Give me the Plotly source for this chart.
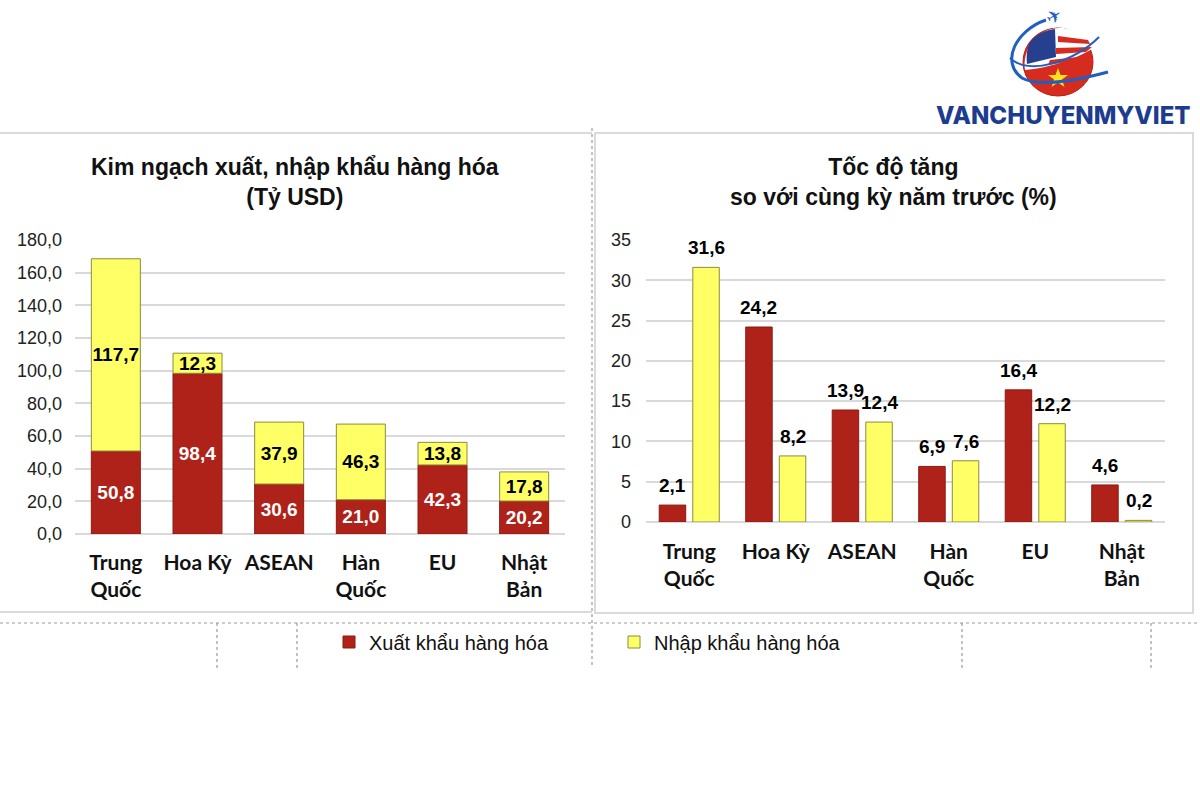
import plotly.graph_objects as go

# ---------------- data ----------------
categories = ["Trung Quốc", "Hoa Kỳ", "ASEAN", "Hàn Quốc", "EU", "Nhật Bản"]
tick_labels = ["Trung<br>Quốc", "Hoa Kỳ", "ASEAN", "Hàn<br>Quốc", "EU", "Nhật<br>Bản"]
export_value = [50.8, 98.4, 30.6, 21.0, 42.3, 20.2]      # Tỷ USD
import_value = [117.7, 12.3, 37.9, 46.3, 13.8, 17.8]     # Tỷ USD
export_growth = [2.1, 24.2, 13.9, 6.9, 16.4, 4.6]        # %
import_growth = [31.6, 8.2, 12.4, 7.6, 12.2, 0.2]        # %
left_yticks = [0, 20, 40, 60, 80, 100, 120, 140, 160, 180]
right_yticks = [0, 5, 10, 15, 20, 25, 30, 35]

series_names = ["Xuất khẩu hàng hóa", "Nhập khẩu hàng hóa"]
title_left = "Kim ngạch xuất, nhập khẩu hàng hóa<br>(Tỷ USD)"
title_right = "Tốc độ tăng<br>so với cùng kỳ năm trước (%)"

RED = "#AE2219"
YELLOW = "#FFFF66"
RED_LINE = "#8E1A12"
YEL_LINE = "#8C8C3C"
GRID = "#D9D9D9"
ARIAL = "Liberation Sans, Arial, sans-serif"
CAT_FONT = "Lato, Calibri, sans-serif"

# grouped bar geometry (category units)
BAR_W = 0.306
RED_OFF = -0.347
YEL_OFF = 0.041


def fmt(v):
    return f"{v:.1f}".replace(".", ",")


fig = go.Figure()

# ---------------- left: stacked bars ----------------
fig.add_trace(go.Bar(
    x=categories, y=export_value, name=series_names[0],
    marker=dict(color=RED, line=dict(color=RED_LINE, width=1)),
    width=0.6, offset=-0.3,
    text=[fmt(v) for v in export_value], textposition="inside",
    insidetextanchor="middle", textangle=0, constraintext="none",
    textfont=dict(family=ARIAL, size=19, color="white", weight="bold"),
    cliponaxis=False, xaxis="x", yaxis="y", legendrank=1,
))
fig.add_trace(go.Bar(
    x=categories, y=import_value, base=export_value, name=series_names[1],
    marker=dict(color=YELLOW, line=dict(color=YEL_LINE, width=1)),
    width=0.6, offset=-0.3,
    text=[fmt(v) for v in import_value], textposition="inside",
    insidetextanchor="middle", textangle=0, constraintext="none",
    textfont=dict(family=ARIAL, size=19, color="black", weight="bold"),
    cliponaxis=False, xaxis="x", yaxis="y", legendrank=2,
))

# ---------------- right: grouped bars ----------------
fig.add_trace(go.Bar(
    x=categories, y=export_growth, name=series_names[0], showlegend=False,
    marker=dict(color=RED, line=dict(color=RED_LINE, width=1)),
    width=BAR_W, offset=RED_OFF, cliponaxis=False, xaxis="x2", yaxis="y2",
))
fig.add_trace(go.Bar(
    x=categories, y=import_growth, name=series_names[1], showlegend=False,
    marker=dict(color=YELLOW, line=dict(color=YEL_LINE, width=1)),
    width=BAR_W, offset=YEL_OFF, cliponaxis=False, xaxis="x2", yaxis="y2",
))

W, H = 1200, 800


def PX(x):
    return x / W


def PY(y):
    return 1 - y / H


def cat_axis(standoff):
    return dict(
        type="category", categoryorder="array", categoryarray=categories,
        tickvals=categories, ticktext=tick_labels,
        showgrid=False, zeroline=False, showline=False, ticks="",
        tickfont=dict(family=CAT_FONT, size=21, color="#111111", weight="bold"),
        ticklabelstandoff=standoff, fixedrange=True, automargin=False,
    )


layout_shapes = []


def pline(x0, y0, x1, y1, color, width, dash="solid"):
    layout_shapes.append(dict(type="line", xref="x3", yref="y3", x0=x0, y0=y0, x1=x1, y1=y1,
                              line=dict(color=color, width=width, dash=dash), layer="below"))


# panel frames
pline(0, 133, 592, 133, "#DADADA", 2)
pline(0, 612, 592, 612, "#DADADA", 2)
layout_shapes.append(dict(type="rect", xref="x3", yref="y3", x0=595, y0=133, x1=1193, y1=613,
                          line=dict(color="#DADADA", width=2), fillcolor="rgba(0,0,0,0)", layer="below"))
# dashed separators
pline(592, 128, 592, 668, "#9A9A9A", 1.2, "dot")
pline(0, 623, 1200, 623, "#9A9A9A", 1.2, "dot")
for xv in [217, 297, 962, 1151]:
    pline(xv, 623, xv, 668, "#9A9A9A", 1.2, "dot")

# ---- logo (approximation) ----
layout_shapes += [
    dict(type="circle", xref="x3", yref="y3", x0=1023, y0=28, x1=1093, y1=96,
         fillcolor="#D62B1F", line=dict(color="#B81E14", width=1)),
    dict(type="path", xref="x3", yref="y3",
         path="M 1025,70 C 1022,48 1038,29 1058,28 C 1076,27 1089,37 1094,48 C 1074,60 1048,68 1025,70 Z",
         fillcolor="white", line=dict(width=0)),
    dict(type="path", xref="x3", yref="y3",
         path="M 1058,36 L 1088,40 L 1090,44 L 1058,42 Z M 1056,48 L 1092,47 L 1086,52 L 1056,54 Z M 1050,60 L 1078,57 L 1066,62 L 1048,65 Z",
         fillcolor="#D62B1F", line=dict(width=0)),
    dict(type="path", xref="x3", yref="y3",
         path="M 1030,42 C 1036,34 1046,30 1055,29 L 1056,57 L 1027,64 C 1026,56 1027,48 1030,42 Z",
         fillcolor="#26408F", line=dict(width=0)),
    dict(type="path", xref="x3", yref="y3",
         path="M 1058,68 L 1060.5,75 L 1068,75 L 1062,79.5 L 1064.5,87 L 1058,82.5 L 1051.5,87 L 1054,79.5 L 1048,75 L 1055.5,75 Z",
         fillcolor="#FFE21A", line=dict(width=0)),
    dict(type="path", xref="x3", yref="y3",
         path="M 1046,20 C 1016,30 1000,62 1022,78 C 1040,88 1078,80 1108,72",
         line=dict(color="#1F5FC0", width=3)),
    dict(type="path", xref="x3", yref="y3",
         path="M 1010,58 C 1028,76 1074,62 1099,37",
         line=dict(color="#1F5FC0", width=2)),
]

annotations = [
    dict(xref="x3", yref="y3", x=295, y=182, text=title_left, showarrow=False,
         font=dict(family=ARIAL, size=23, color="#111111", weight="bold"),
         xanchor="center", yanchor="middle", align="center"),
    dict(xref="x3", yref="y3", x=893, y=182, text=title_right, showarrow=False,
         font=dict(family=ARIAL, size=23, color="#111111", weight="bold"),
         xanchor="center", yanchor="middle", align="center"),
    dict(xref="x3", yref="y3", x=1063, y=115, text="VANCHUYENMYVIET", showarrow=False,
         font=dict(family="Inter, Open Sans, sans-serif", size=24, color="#1D3C8E", weight=800),
         xanchor="center", yanchor="middle"),
    dict(xref="x3", yref="y3", x=1053, y=16, text="✈", showarrow=False, textangle=-30,
         font=dict(family="DejaVu Sans", size=18, color="#1F5FC0"),
         xanchor="center", yanchor="middle"),
]

# value labels above the grouped bars (right chart)
for i, v in enumerate(export_growth):
    annotations.append(dict(xref="x2", yref="y2", x=i + RED_OFF + BAR_W / 2, y=v,
                            text=fmt(v), showarrow=False, xanchor="center", yanchor="bottom",
                            yshift=7, font=dict(family=ARIAL, size=19, color="black", weight="bold")))
for i, v in enumerate(import_growth):
    annotations.append(dict(xref="x2", yref="y2", x=i + YEL_OFF + BAR_W / 2, y=v,
                            text=fmt(v), showarrow=False, xanchor="center", yanchor="bottom",
                            yshift=7, font=dict(family=ARIAL, size=19, color="black", weight="bold")))

fig.update_layout(
    width=W, height=H, autosize=False,
    margin=dict(l=0, r=0, t=0, b=0, pad=0, autoexpand=False),
    paper_bgcolor="white", plot_bgcolor="rgba(0,0,0,0)",
    separators=",.",
    barmode="group",
    showlegend=True,
    legend=dict(
        orientation="h", x=PX(329), xanchor="left", y=PY(642), yanchor="middle",
        font=dict(family=ARIAL, size=20, color="#111111"),
        entrywidth=240, entrywidthmode="pixels", itemwidth=30,
        bgcolor="rgba(0,0,0,0)", traceorder="normal",
        itemclick=False, itemdoubleclick=False,
    ),
    xaxis=dict(domain=[PX(75), PX(565)], anchor="y", range=[-0.5, 5.5], **cat_axis(14)),
    yaxis=dict(domain=[PY(534), PY(240)], anchor="x", range=[0, 180],
               tickvals=left_yticks, tickformat=".1f",
               showgrid=True, gridcolor=GRID, gridwidth=2,
               zeroline=True, zerolinecolor=GRID, zerolinewidth=2, showline=False,
               tickfont=dict(family=ARIAL, size=18, color="#222222"),
               ticklabelstandoff=12, fixedrange=True, automargin=False),
    xaxis2=dict(domain=[PX(646), PX(1165)], anchor="y2", range=[-0.5, 5.5], **cat_axis(15)),
    yaxis2=dict(domain=[PY(522), PY(240)], anchor="x2", range=[0, 35],
                tickvals=right_yticks, tickformat="d",
                showgrid=True, gridcolor=GRID, gridwidth=2,
                zeroline=True, zerolinecolor=GRID, zerolinewidth=2, showline=False,
                tickfont=dict(family=ARIAL, size=18, color="#222222"),
                ticklabelstandoff=14, fixedrange=True, automargin=False),
    xaxis3=dict(domain=[0, 1], anchor="y3", range=[0, 1200], visible=False,
                fixedrange=True, automargin=False),
    yaxis3=dict(domain=[0, 1], anchor="x3", range=[800, 0], visible=False,
                fixedrange=True, automargin=False),
    shapes=layout_shapes,
    annotations=annotations,
)

# invisible anchor trace so the page-coordinate helper axes exist
fig.add_trace(go.Scatter(x=[0], y=[0], xaxis="x3", yaxis="y3", mode="markers",
                         marker=dict(opacity=0), showlegend=False, hoverinfo="skip"))

fig.write_html("out.html")
